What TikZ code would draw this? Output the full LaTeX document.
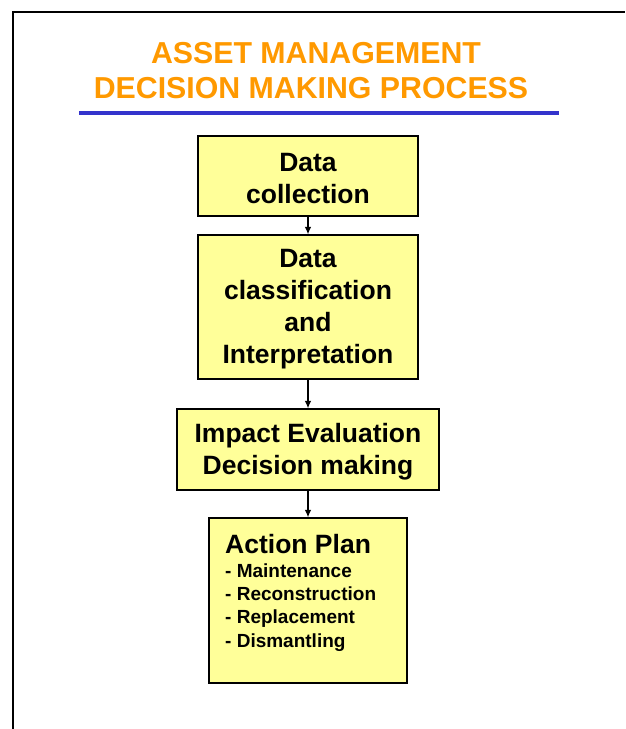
\documentclass[tikz,border=0pt]{standalone}
\usepackage{fontspec}
\setmainfont{Liberation Sans}
\usetikzlibrary{arrows.meta}
\definecolor{titleorange}{HTML}{FF9900}
\definecolor{ruleblue}{HTML}{3333CC}
\definecolor{boxyellow}{HTML}{FFFF99}
\begin{document}
\begin{tikzpicture}[x=1pt,y=-1pt,
  box/.style={draw=black,line width=1.2pt,fill=boxyellow,inner sep=0pt},
  boxtext/.style={inner sep=0pt,align=center,font=\bfseries\fontsize{26.5}{32}\selectfont},
  link/.style={line width=1.3pt,-{Latex[length=7.5pt,width=6.5pt]}},
  ttl/.style={text=titleorange,font=\bfseries\fontsize{30.3}{36}\selectfont,anchor=base,inner sep=0pt},
  itemtext/.style={anchor=base west,inner sep=0pt,font=\bfseries\fontsize{19}{23}\selectfont},
  headtext/.style={anchor=base west,inner sep=0pt,font=\bfseries\fontsize{26.5}{32}\selectfont}]
\useasboundingbox (0,0) rectangle (625,729);
% frame
\draw[line width=2pt] (12.5,729) coordinate (fb) -- (12.5,11.5) coordinate (fc) -- (625,11.5) coordinate (fr);
% title
\node[ttl] (t1) at (316,63) {ASSET MANAGEMENT};
\node[ttl] (t2) at (311,98.5) {DECISION MAKING PROCESS};
\draw[ruleblue,line width=4pt] (79,113) coordinate (rl) -- (559,113) coordinate (rr);
% boxes
\node[box,minimum width=220pt,minimum height=80pt] (b1) at (308,176) {};
\node[boxtext] (b1t) at ([yshift=-2.5pt]b1.center) {Data\\collection};
\node[box,minimum width=220pt,minimum height=144pt] (b2) at (308,307) {};
\node[boxtext] (b2t) at ([yshift=-2.5pt]b2.center) {Data\\classification\\and\\Interpretation};
\node[box,minimum width=262pt,minimum height=81pt] (b3) at (308,449.5) {};
\node[boxtext] (b3t) at ([yshift=-2.5pt]b3.center) {Impact Evaluation\\Decision making};
\node[box,minimum width=198pt,minimum height=165pt] (b4) at (308,600.5) {};
\node[headtext] (ap) at (225,553) {Action Plan};
\node[itemtext] (i1) at (225,577) {- Maintenance};
\node[itemtext] (i2) at (225,600) {- Reconstruction};
\node[itemtext] (i3) at (225,623.5) {- Replacement};
\node[itemtext] (i4) at (225,647) {- Dismantling};
% connectors
\draw[link] (b1) -- (b2);
\draw[link] (b2) -- (b3);
\draw[link] (b3) -- (b4);
\end{tikzpicture}
\end{document}
